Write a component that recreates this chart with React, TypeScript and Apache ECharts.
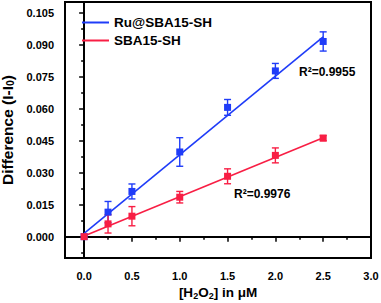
import React, { useEffect, useRef } from "react";
import * as echarts from "echarts";

const concentrations = [0, 0.25, 0.5, 1.0, 1.5, 2.0, 2.5];
const ruValues = [0, 0.0115, 0.0212, 0.0397, 0.0606, 0.0777, 0.0915];
const ruErrors = [0, 0.005, 0.0035, 0.0067, 0.0037, 0.0035, 0.0045];
const shValues = [0, 0.006, 0.0096, 0.0185, 0.0283, 0.0381, 0.0462];
const shErrors = [0, 0.0043, 0.0045, 0.0027, 0.0035, 0.0035, 0.0012];
const ruFit = [[0, 0.0015], [2.5, 0.0937]];
const shFit = [[0, 0.0003], [2.5, 0.0464]];
const xTicks = [0, 0.5, 1.0, 1.5, 2.0, 2.5, 3.0];
const xMinorTicks = [0.25, 0.75, 1.25, 1.75, 2.25, 2.75];
const yTicks = [0, 0.015, 0.03, 0.045, 0.06, 0.075, 0.09, 0.105];
const yMinorTicks = [-0.0075, 0.0075, 0.0225, 0.0375, 0.0525, 0.0675, 0.0825, 0.0975];
const seriesNames = ["Ru@SBA15-SH", "SBA15-SH"];
const r2Labels = ["R²=0.9955", "R²=0.9976"];

const BLUE = "#1f3cf8";
const RED = "#f81e44";
const FONT = "'Liberation Sans', Arial, sans-serif";

function errorBarRenderer(color: string) {
  return (params: any, api: any) => {
    const x = api.value(0);
    const y = api.value(1);
    const e = api.value(2);
    if (!e) return { type: "group", children: [] };
    const top = api.coord([x, y + e]);
    const bot = api.coord([x, y - e]);
    const w = 3.5;
    const style = { stroke: color, lineWidth: 1.4 };
    return {
      type: "group",
      children: [
        { type: "line", shape: { x1: top[0], y1: top[1], x2: bot[0], y2: bot[1] }, style },
        { type: "line", shape: { x1: top[0] - w, y1: top[1], x2: top[0] + w, y2: top[1] }, style },
        { type: "line", shape: { x1: bot[0] - w, y1: bot[1], x2: bot[0] + w, y2: bot[1] }, style },
      ],
    };
  };
}

export default function App() {
  const ref = useRef<HTMLDivElement>(null);
  useEffect(() => {
    if (!ref.current) return;
    const chart = echarts.init(ref.current, null, { renderer: "svg" });
    const axisLine = { show: true, lineStyle: { color: "#000", width: 2 } };
    const baseX = {
      type: "value",
      min: -0.2,
      max: 3.0,
      splitLine: { show: false },
      axisLine,
    };
    const baseY = {
      type: "value",
      min: -0.01,
      max: 0.11,
      splitLine: { show: false },
      axisLine,
    };
    const ruErr = concentrations.map((c, i) => [c, ruValues[i], ruErrors[i]]);
    const shErr = concentrations.map((c, i) => [c, shValues[i], shErrors[i]]);
    chart.setOption({
      animation: false,
      grid: {
        left: 65,
        right: 10,
        top: 2,
        bottom: 45,
        show: true,
        borderColor: "#000",
        borderWidth: 2,
        backgroundColor: "transparent",
        containLabel: false,
        outerBoundsMode: "none",
      },
      legend: {
        data: seriesNames,
        left: 77,
        top: 10,
        orient: "vertical",
        icon: "rect",
        itemWidth: 27,
        itemHeight: 2,
        itemGap: 3,
        textStyle: { fontFamily: FONT, fontWeight: "bold", fontSize: 13.5, color: "#000", lineHeight: 15 },
      },
      xAxis: [
        {
          ...baseX,
          name: "[H{s|2}O{s|2}] in μM",
          nameLocation: "middle",
          nameGap: 24,
          nameTextStyle: {
            fontFamily: FONT,
            fontWeight: "bold",
            fontSize: 13.5,
            color: "#000",
            rich: {
              s: { fontFamily: FONT, fontWeight: "bold", fontSize: 9, color: "#000", verticalAlign: "bottom", padding: [6, 0, 0, 0] },
            },
          },
          axisTick: { show: true, customValues: xTicks, length: 5, lineStyle: { color: "#000", width: 1.5 } },
          axisLabel: {
            customValues: xTicks,
            margin: 12,
            fontFamily: FONT,
            fontWeight: "bold",
            fontSize: 11,
            color: "#000",
            formatter: (v: number) => v.toFixed(1),
          },
        },
        {
          ...baseX,
          position: "bottom",
          offset: 0,
          axisTick: { show: true, customValues: xMinorTicks, length: 3, lineStyle: { color: "#000", width: 1.5 } },
          axisLabel: { show: false },
        },
      ],
      yAxis: [
        {
          ...baseY,
          name: "Difference (I-I{s|0})",
          nameLocation: "middle",
          nameGap: 45,
          nameRotate: 90,
          nameTextStyle: {
            fontFamily: FONT,
            fontWeight: "bold",
            fontSize: 15.5,
            color: "#000",
            rich: {
              s: { fontFamily: FONT, fontWeight: "bold", fontSize: 10.5, color: "#000", verticalAlign: "bottom", padding: [6, 0, 0, 0] },
            },
          },
          axisTick: { show: true, customValues: yTicks, length: 5, lineStyle: { color: "#000", width: 1.5 } },
          axisLabel: {
            customValues: yTicks,
            margin: 11,
            fontFamily: FONT,
            fontWeight: "bold",
            fontSize: 11,
            color: "#000",
            formatter: (v: number) => v.toFixed(3),
          },
        },
        {
          ...baseY,
          position: "left",
          offset: 0,
          axisTick: { show: true, customValues: yMinorTicks, length: 3, lineStyle: { color: "#000", width: 1.5 } },
          axisLabel: { show: false },
        },
      ],
      graphic: [
        {
          type: "text",
          left: 299,
          top: 66,
          style: { text: r2Labels[0], font: `bold 12px ${FONT}`, fill: "#000" },
        },
        {
          type: "text",
          left: 234,
          top: 188,
          style: { text: r2Labels[1], font: `bold 12px ${FONT}`, fill: "#000" },
        },
      ],
      series: [
        {
          name: seriesNames[0],
          type: "line",
          data: ruFit,
          symbol: "none",
          lineStyle: { color: BLUE, width: 1.6 },
          itemStyle: { color: BLUE },
          z: 2,
        },
        {
          name: seriesNames[1],
          type: "line",
          data: shFit,
          symbol: "none",
          lineStyle: { color: RED, width: 1.6 },
          itemStyle: { color: RED },
          z: 2,
        },
        {
          name: "ru-err",
          type: "custom",
          data: ruErr,
          encode: { x: 0, y: 1 },
          renderItem: errorBarRenderer(BLUE),
          z: 3,
        },
        {
          name: "sh-err",
          type: "custom",
          data: shErr,
          encode: { x: 0, y: 1 },
          renderItem: errorBarRenderer(RED),
          z: 3,
        },
        {
          name: "ru-pts",
          type: "scatter",
          data: concentrations.map((c, i) => [c, ruValues[i]]),
          symbol: "rect",
          symbolSize: 7,
          itemStyle: { color: BLUE, opacity: 1 },
          z: 4,
        },
        {
          name: "sh-pts",
          type: "scatter",
          data: concentrations.map((c, i) => [c, shValues[i]]),
          symbol: "rect",
          symbolSize: 7,
          itemStyle: { color: RED, opacity: 1 },
          z: 5,
        },
      ],
    });
    return () => chart.dispose();
  }, []);
  return <div ref={ref} style={{ width: 381, height: 303, position: "absolute", left: 0, top: 0 }} />;
}
